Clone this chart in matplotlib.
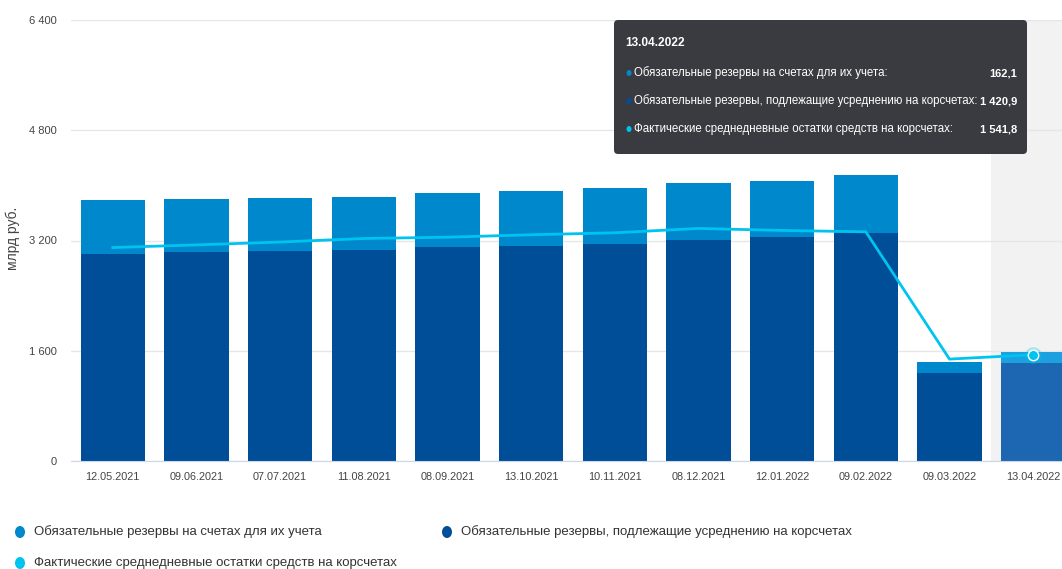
import numpy as np
import matplotlib
matplotlib.use('Agg')
import matplotlib.pyplot as plt
from matplotlib.patches import FancyBboxPatch, Ellipse
from matplotlib.transforms import IdentityTransform
from matplotlib.ticker import FuncFormatter

plt.rcParams['font.family'] = ['Liberation Sans', 'DejaVu Sans']

dates = ['12.05.2021', '09.06.2021', '07.07.2021', '11.08.2021', '08.09.2021', '13.10.2021',
         '10.11.2021', '08.12.2021', '12.01.2022', '09.02.2022', '09.03.2022', '13.04.2022']
# млрд руб.
on_accounts = [775, 766, 771, 771, 776, 796, 810, 825, 809, 844, 156, 162.1]
averaged = [3007, 3030, 3044, 3065, 3108, 3127, 3146, 3204, 3254, 3312, 1284, 1420.9]
actual = [3098, 3136, 3178, 3229, 3248, 3283, 3312, 3375, 3346, 3326, 1479, 1541.8]

names = ['Обязательные резервы на счетах для их учета',
         'Обязательные резервы, подлежащие усреднению на корсчетах',
         'Фактические среднедневные остатки средств на корсчетах']
colors = ['#0088cc', '#004e98', '#00c4f0']

W, H = 1062, 569
fig = plt.figure(figsize=(W / 100, H / 100), dpi=100)
ax = fig.add_axes([71 / W, (H - 461) / H, 1004 / W, 441 / H])

x = np.arange(len(dates))
hover = len(dates) - 1
dark_cols = [colors[1]] * hover + ['#1c66b2']
light_cols = [colors[0]] * hover + ['#1ca0e0']

ax.axvspan(hover - 0.5, hover + 0.5, color='#f2f2f2', lw=0, zorder=0)
ax.bar(x, averaged, width=0.765, color=dark_cols, linewidth=0, zorder=2)
ax.bar(x, on_accounts, bottom=averaged, width=0.765, color=light_cols, linewidth=0, zorder=2)
ax.plot(x, actual, color=colors[2], lw=2, zorder=3)
ax.plot(x[hover], actual[hover], 'o', ms=12, color=colors[2], alpha=0.3, mew=0, zorder=4)
ax.plot(x[hover], actual[hover], 'o', ms=7.5, mfc=colors[2], mec='white', mew=1, zorder=5)

ax.set_xlim(-0.5, len(dates) - 0.5)
ax.set_ylim(0, 6400)
ax.set_yticks([0, 1600, 3200, 4800, 6400])
ax.yaxis.set_major_formatter(FuncFormatter(lambda v, p: f'{v:,.0f}'.replace(',', ' ')))
ax.set_xticks(x)
ax.set_xticklabels(dates)
ax.grid(axis='y', color='#e6e6e6', lw=1, zorder=0)
ax.set_axisbelow(True)
for s in ['top', 'right', 'left']:
    ax.spines[s].set_visible(False)
ax.spines['bottom'].set_color('#ccd6eb')
ax.tick_params(axis='y', length=0, pad=10, labelsize=8, labelcolor='#444444')
ax.tick_params(axis='x', length=0, pad=8, labelsize=7.8, labelcolor='#444444')

fig.text(13 / W, 1 - 238 / H, 'млрд руб.', rotation=90, ha='center', va='center',
         fontsize=10, color='#444444')

# tooltip
px = IdentityTransform()
tip = FancyBboxPatch((614, H - 154), 413, 134, boxstyle='round,pad=0,rounding_size=4',
                     transform=px, fc='#3a3b40', ec='none', zorder=10)
fig.add_artist(tip)
fig.text(625 / W, 1 - 43 / H, dates[hover], color='white', fontsize=8.6, fontweight='bold',
         va='center', ha='left', zorder=11)
tip_vals = [on_accounts[hover], averaged[hover], actual[hover]]
for i, (nm, c, v) in enumerate(zip(names, colors, tip_vals)):
    y = H - [73, 101, 129][i]
    fig.add_artist(Ellipse((629, y), 5, 6, transform=px, fc=c, ec='none', zorder=11))
    fig.text(634 / W, y / H, nm + ':', color='white', fontsize=8.3, va='center', ha='left',
             zorder=11)
    val = f'{v:,.1f}'.replace(',', ' ').replace('.', ',')
    fig.text(1017 / W, y / H, val, color='white', fontsize=8, fontweight='bold',
             va='center', ha='right', zorder=11)

# legend
leg_pos = [(20, 532), (447, 532), (20, 563)]
for (lx, ly), nm, c in zip(leg_pos, names, colors):
    fig.add_artist(Ellipse((lx, H - ly), 10, 12, transform=px, fc=c, ec='none'))
    fig.text((lx + 14) / W, 1 - ly / H, nm, color='#333333', fontsize=9.5, va='center',
             ha='left')

fig.savefig('out.png', dpi=100)
